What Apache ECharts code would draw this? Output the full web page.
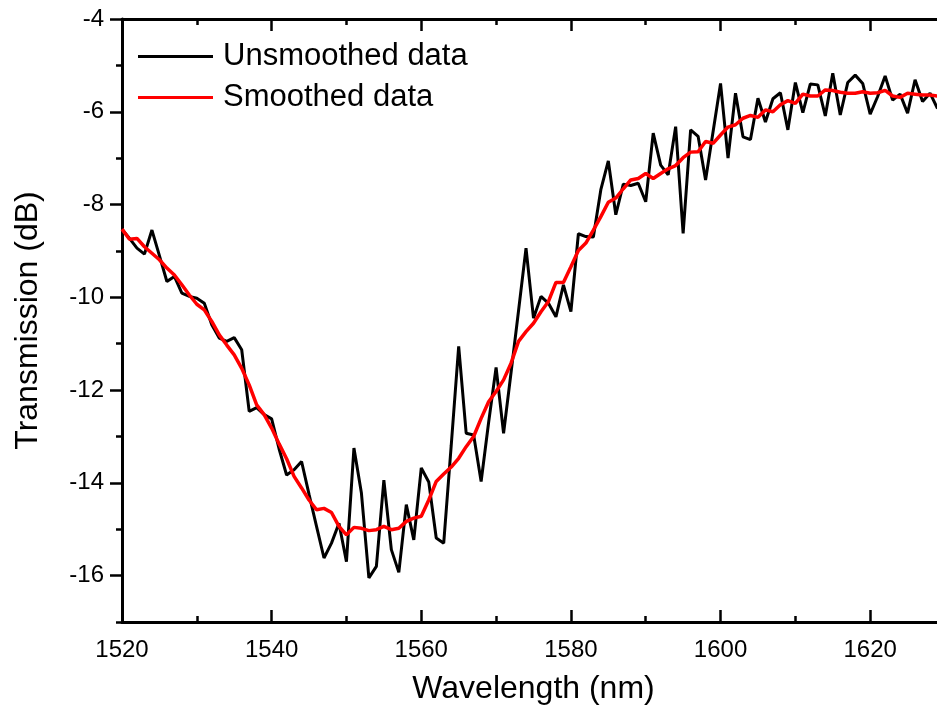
<!DOCTYPE html>
<html>
<head>
<meta charset="utf-8">
<script src="https://cdn.jsdelivr.net/npm/echarts@6/dist/echarts.min.js"></script>
<style>html,body{margin:0;padding:0;background:#fff}#c{width:937px;height:718px}</style>
</head>
<body>
<div id="c"></div>
<script>
const wavelengths = [];
for (let w = 1520; w <= 1629; w++) wavelengths.push(w);

const unsmoothed = [
-8.53,-8.73,-8.94,-9.07,-8.55,-9.10,-9.66,-9.55,-9.91,-9.98,
-10.02,-10.13,-10.59,-10.88,-10.95,-10.87,-11.13,-12.46,-12.38,-12.53,
-12.62,-13.27,-13.83,-13.72,-13.54,-14.25,-14.94,-15.62,-15.30,-14.87,
-15.70,-13.25,-14.22,-16.05,-15.80,-13.94,-15.44,-15.93,-14.47,-15.23,
-13.68,-13.98,-15.19,-15.30,-13.20,-11.06,-12.93,-12.97,-13.97,-12.70,
-11.51,-12.93,-11.62,-10.29,-8.94,-10.45,-9.98,-10.13,-10.42,-9.73,
-10.31,-8.63,-8.69,-8.70,-7.68,-7.06,-8.22,-7.56,-7.59,-7.54,
-7.94,-6.46,-7.15,-7.36,-6.32,-8.62,-6.39,-6.53,-7.47,-6.43,
-5.39,-7.00,-5.60,-6.54,-6.60,-5.71,-6.22,-5.72,-5.59,-6.39,
-5.37,-6.02,-5.40,-5.42,-6.09,-5.17,-6.07,-5.37,-5.21,-5.39,
-6.05,-5.67,-5.23,-5.75,-5.62,-6.03,-5.31,-5.78,-5.60,-5.93
];

const smoothed = [
-8.53,-8.75,-8.73,-8.91,-9.05,-9.19,-9.37,-9.52,-9.73,-9.95,
-10.15,-10.27,-10.52,-10.81,-11.03,-11.24,-11.53,-11.89,-12.32,-12.53,
-12.82,-13.16,-13.48,-13.86,-14.11,-14.37,-14.58,-14.55,-14.64,-14.94,
-15.12,-14.96,-14.98,-15.03,-15.01,-14.94,-15.01,-14.98,-14.83,-14.76,
-14.72,-14.37,-13.97,-13.81,-13.66,-13.47,-13.22,-13.00,-12.61,-12.25,
-12.03,-11.78,-11.42,-10.95,-10.74,-10.56,-10.31,-10.09,-9.68,-9.68,
-9.34,-8.99,-8.83,-8.55,-8.26,-7.95,-7.86,-7.66,-7.47,-7.44,
-7.33,-7.44,-7.33,-7.23,-7.16,-6.99,-6.87,-6.86,-6.64,-6.68,
-6.50,-6.33,-6.28,-6.14,-6.08,-6.12,-5.96,-6.00,-5.85,-5.76,
-5.82,-5.62,-5.66,-5.66,-5.53,-5.54,-5.58,-5.60,-5.60,-5.57,
-5.60,-5.59,-5.54,-5.66,-5.69,-5.60,-5.62,-5.64,-5.64,-5.66
];

const xMajorTicks = [1520, 1540, 1560, 1580, 1600, 1620];
const xMinorTicks = [1530, 1550, 1570, 1590, 1610];
const yMajorTicks = [-16, -14, -12, -10, -8, -6, -4];
const yMinorTicks = [-17, -15, -13, -11, -9, -7, -5];
const seriesNames = ['Unsmoothed data', 'Smoothed data'];

const FONT = 'Liberation Sans, Arial, sans-serif';
const X_MIN = 1520, X_MAX = 1630, Y_MIN = -17, Y_MAX = -4;

function pairs(ys) { return wavelengths.map((w, i) => [w, ys[i]]); }
const plain = v => String(v);

function xAx(pos, ticks, len, withLine, withLabels, extra) {
  return Object.assign({
    type: 'value', min: X_MIN, max: X_MAX, position: pos,
    axisLine: { show: withLine, lineStyle: { color: '#000', width: 3 } },
    axisTick: { show: true, inside: true, length: len, customValues: ticks, lineStyle: { color: '#000', width: 2.5 } },
    axisLabel: withLabels ? { show: true, customValues: ticks, formatter: plain, fontSize: 24, fontFamily: FONT, color: '#000', margin: 16 } : { show: false },
    splitLine: { show: false }
  }, extra || {});
}
function yAx(ticks, len, withLine, withLabels, extra) {
  return Object.assign({
    type: 'value', min: Y_MIN, max: Y_MAX, position: 'left',
    axisLine: { show: withLine, lineStyle: { color: '#000', width: 3 } },
    axisTick: { show: true, inside: false, length: len, customValues: ticks, lineStyle: { color: '#000', width: 2.5 } },
    axisLabel: withLabels ? { show: true, customValues: ticks, formatter: plain, fontSize: 24, fontFamily: FONT, color: '#000', margin: 18 } : { show: false },
    splitLine: { show: false }
  }, extra || {});
}

const chart = echarts.init(document.getElementById('c'), null, { renderer: 'canvas' });
chart.setOption({
  animation: false,
  backgroundColor: '#fff',
  grid: { left: 122, right: -8, top: 19, bottom: 96, containLabel: false, outerBoundsMode: 'none' },
  legend: {
    show: true, orient: 'vertical', left: 133, top: 36,
    itemWidth: 75, itemHeight: 3, itemGap: 10, icon: 'rect',
    selectedMode: false,
    textStyle: { fontSize: 31, fontFamily: FONT, color: '#000', padding: [0, 0, 0, 5] },
    data: seriesNames
  },
  xAxis: [
    xAx('bottom', xMajorTicks, 12, true, true, {
      name: 'Wavelength (nm)', nameLocation: 'middle', nameGap: 51,
      nameTextStyle: { fontSize: 32, fontFamily: FONT, color: '#000' }
    }),
    xAx('bottom', xMinorTicks, 6, false, false),
    xAx('top', xMajorTicks, 12, true, false),
    xAx('top', xMinorTicks, 6, false, false)
  ],
  yAxis: [
    yAx(yMajorTicks, 12, true, true, {
      name: 'Transmission (dB)', nameLocation: 'middle', nameGap: 78, nameRotate: 90,
      nameTextStyle: { fontSize: 32, fontFamily: FONT, color: '#000' }
    }),
    yAx(yMinorTicks, 6, false, false)
  ],
  series: [
    { name: seriesNames[0], type: 'line', xAxisIndex: 0, yAxisIndex: 0, data: pairs(unsmoothed),
      symbol: 'none', color: '#000', lineStyle: { color: '#000', width: 3 }, z: 2 },
    { name: seriesNames[1], type: 'line', xAxisIndex: 0, yAxisIndex: 0, data: pairs(smoothed),
      symbol: 'none', color: '#ff0000', lineStyle: { color: '#ff0000', width: 3.5 }, z: 3 }
  ]
});
</script>
</body>
</html>
